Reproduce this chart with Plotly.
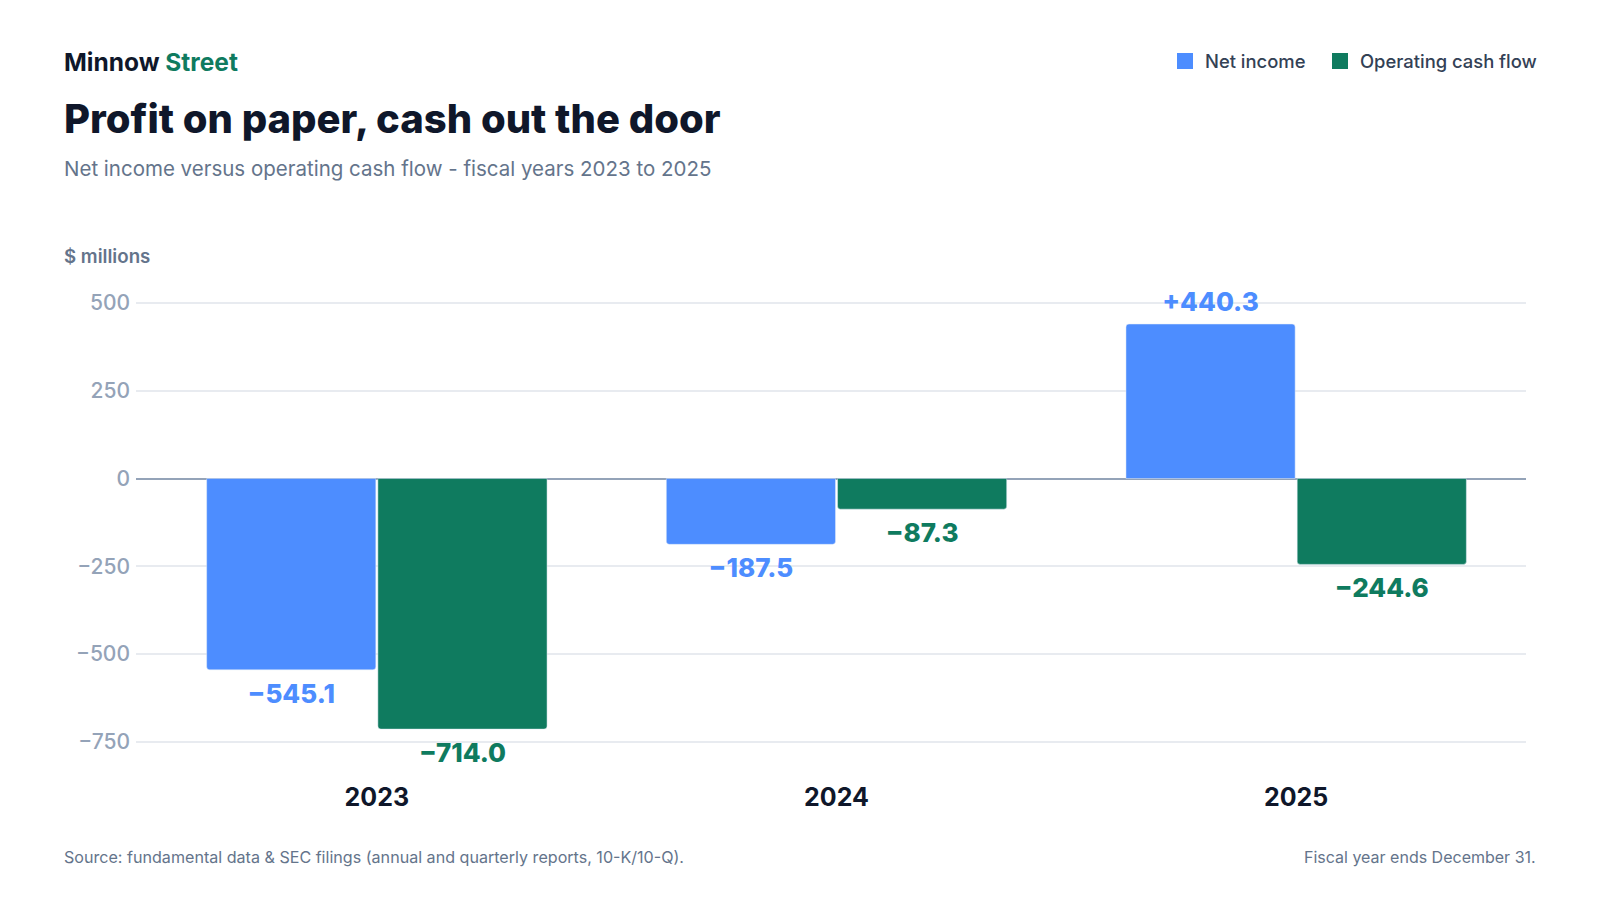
import plotly.graph_objects as go

# data, $ millions
years = ["2023", "2024", "2025"]
net_income = [-545.1, -187.5, 440.3]
operating_cash_flow = [-714.0, -87.3, -244.6]
y_ticks = [-750, -500, -250, 0, 250, 500]

BLUE = "#4d8dff"
GREEN = "#0f7b5f"
INK = "#0f172a"
SLATE = "#64748b"
FONT = "Inter"

# page has an 8px body margin, so the figure is 16px smaller than the window
W, H = 1584, 884
L, R, T, B = 128, 66, 274, 132


def px(x):  # figure pixel -> paper x
    return (x - L) / (W - L - R)


def py(y):  # figure pixel -> paper y
    return (H - B - y) / (H - T - B)


def fmt(v):
    return f"{v:+.1f}".replace("-", "\u2212")


fig = go.Figure()

# (offset group, legend, name, values, colour, legend left edge in px)
series = [("ni", "legend", "Net income", net_income, BLUE, 1157),
          ("ocf", "legend2", "Operating cash flow", operating_cash_flow, GREEN, 1312)]

for key, leg, name, vals, color, _ in series:
    fig.add_trace(go.Bar(
        x=years, y=vals, name=name, marker_color=color,
        marker_cornerradius=3, showlegend=False, offsetgroup=key,
        hoverinfo="skip",
    ))

for key, leg, name, vals, color, _ in series:
    # value labels: invisible markers push the text away from the bar end
    fig.add_trace(go.Scatter(
        x=years, y=vals, mode="markers+text", offsetgroup=key,
        text=[fmt(v) for v in vals],
        textposition=["top center" if v >= 0 else "bottom center" for v in vals],
        textfont=dict(family=FONT, size=26, color=color, weight=800),
        marker=dict(size=[8.5 if v >= 0 else 20 for v in vals], opacity=0),
        showlegend=False, hoverinfo="skip", cliponaxis=False,
    ))
    # legend swatch, each series in its own legend so the spacing matches
    fig.add_trace(go.Scatter(
        x=[None], y=[None], mode="markers", name=name, offsetgroup=key,
        legend=leg, marker=dict(symbol="square", size=16, color=color),
    ))

legend_style = dict(
    orientation="h", xref="container", yref="container",
    xanchor="left", y=1 - 53 / H, yanchor="middle",
    font=dict(family=FONT, size=18.4, color="#334155", weight=500),
    bgcolor="rgba(0,0,0,0)",
)

fig.update_layout(
    width=W, height=H,
    margin=dict(l=L, r=R, t=T, b=B),
    paper_bgcolor="white", plot_bgcolor="white",
    barmode="group", bargap=0.255, bargroupgap=0.012,
    scattermode="group",
    font=dict(family=FONT, color=INK),
    legend=dict(legend_style, x=series[0][5] / W),
    legend2=dict(legend_style, x=series[1][5] / W),
    xaxis=dict(
        range=[-0.524, 2.5], showgrid=False, zeroline=False, showline=False,
        tickfont=dict(family=FONT, size=25, color=INK, weight=700),
        ticklabelstandoff=20,
    ),
    yaxis=dict(
        range=[-802, 560], tickvals=y_ticks,
        showgrid=True, gridcolor="#e8ebf0", gridwidth=1.5,
        zeroline=True, zerolinecolor="#94a3b8", zerolinewidth=2,
        showline=False,
        tickfont=dict(family=FONT, size=21, color="#94a3b8", weight=500),
        ticklabelstandoff=5,
    ),
)

annotations = [
    dict(x=px(54), y=py(54),
         text="Minnow <span style='color:%s'>Street</span>" % GREEN,
         font=dict(size=24.5, color=INK, weight=700)),
    dict(x=px(54), y=py(110), text="Profit on paper, cash out the door",
         font=dict(size=40, color=INK, weight=800)),
    dict(x=px(54), y=py(160),
         text="Net income versus operating cash flow - fiscal years 2023 to 2025",
         font=dict(size=20.5, color=SLATE)),
    dict(x=px(54), y=py(249), text="$ millions",
         font=dict(size=18.7, color=SLATE, weight=600)),
    dict(x=px(54), y=py(849),
         text="Source: fundamental data & SEC filings (annual and quarterly reports, 10-K/10-Q).",
         font=dict(size=16.1, color=SLATE)),
    dict(x=px(1530), y=py(849), text="Fiscal year ends December 31.",
         xanchor="right", font=dict(size=16, color=SLATE)),
]
for a in annotations:
    a.setdefault("xanchor", "left")
    a.update(xref="paper", yref="paper", yanchor="middle", showarrow=False)
    a["font"].setdefault("family", FONT)
    fig.add_annotation(**a)

fig.write_html("out.html")
